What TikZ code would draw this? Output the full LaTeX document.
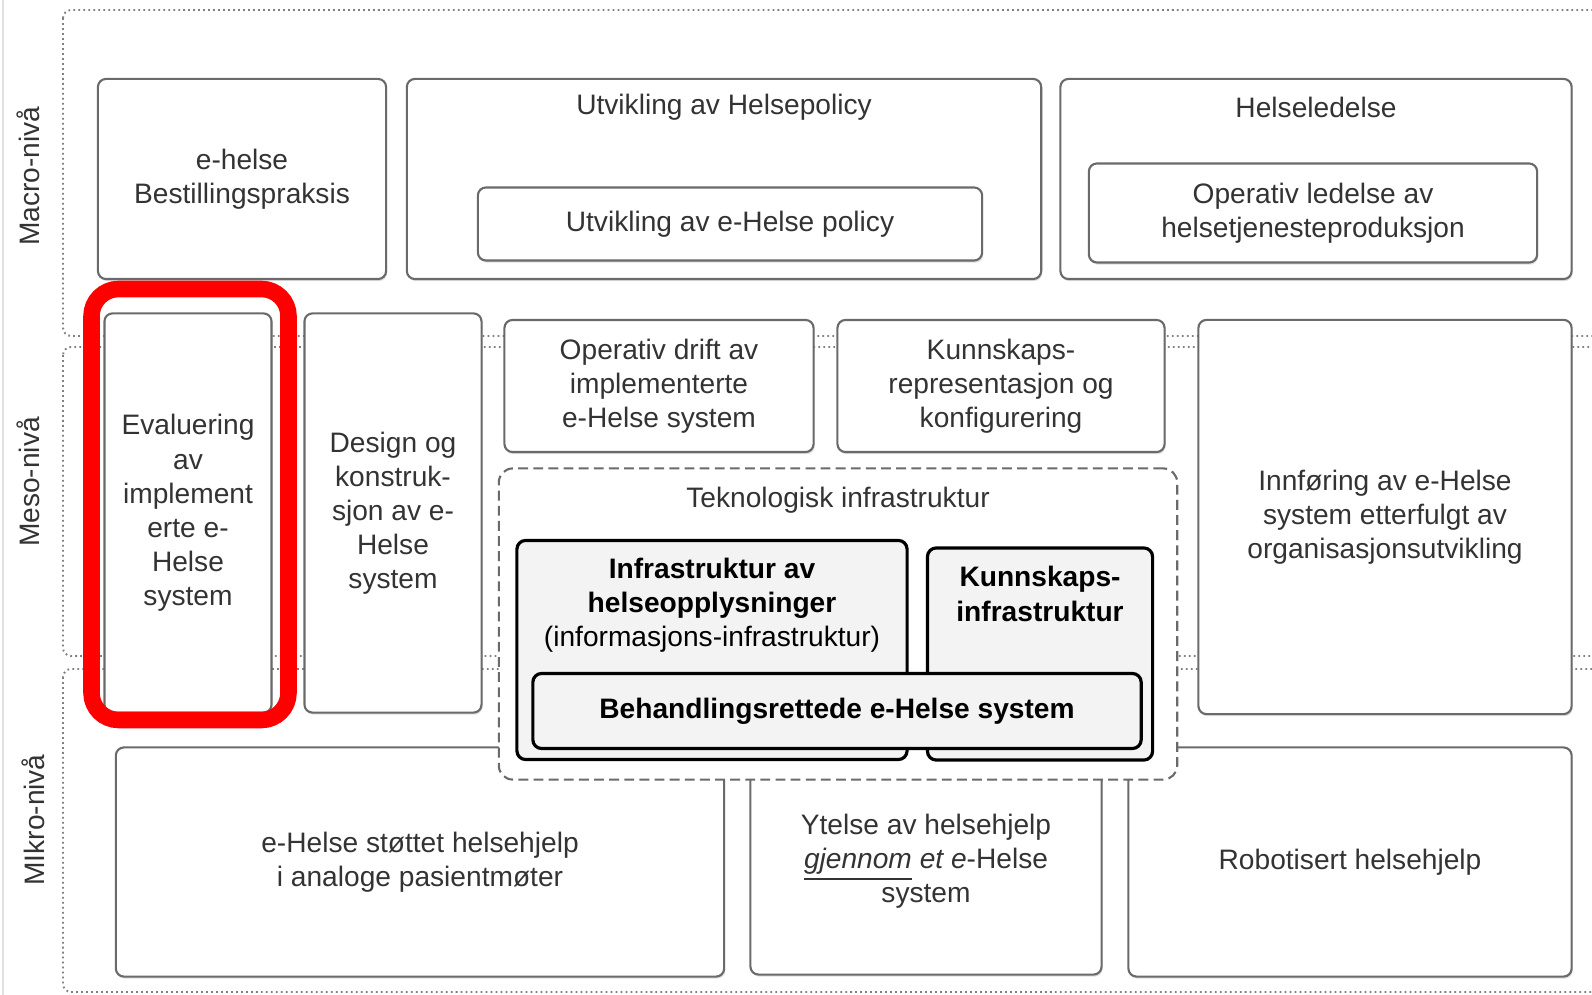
\documentclass[tikz,border=0pt]{standalone}
\usepackage{fontspec}
\setmainfont{Liberation Sans}
\usetikzlibrary{shadows}

\definecolor{boxline}{HTML}{6A6A6A}
\definecolor{txtgray}{HTML}{333333}
\definecolor{fillgray}{HTML}{F3F3F3}
\definecolor{markred}{HTML}{FF0000}

\begin{document}
\begin{tikzpicture}[x=0.01cm,y=-0.01cm,
	every node/.style={font=\fontsize{8}{9.7}\selectfont,text=txtgray,align=center},
	region/.style={draw=black!50,line width=0.55pt,dash pattern=on 0.5pt off 0.92pt,rounded corners=2.3pt},
	box/.style={draw=boxline,line width=0.6pt,fill=white,rounded corners=2.3pt,inner sep=0pt,
		drop shadow={shadow xshift=0.3pt,shadow yshift=-0.6pt,opacity=0.25}},
	techbox/.style={draw=black,line width=0.9pt,fill=fillgray,rounded corners=2.5pt,inner sep=0pt,
		font=\fontsize{8}{9.7}\selectfont\bfseries,text=black},
	techarea/.style={draw=boxline,line width=0.6pt,dash pattern=on 2.8pt off 1.5pt,fill=white,rounded corners=4pt,inner sep=0pt},
	levellabel/.style={rotate=90}]
	\clip (0,0) rectangle (1592,995);
	\draw [black!12] (3,0) -- (3,995);
	
	% levels
	\draw [region] (63,10) rectangle (1650,336);
	\draw [region] (63,347) rectangle (1650,656);
	\draw [region] (63,669) rectangle (1650,992);
	\node [levellabel] (macro) at (28,176) {Macro-nivå};
	\node [levellabel] (meso) at (28,482) {Meso-nivå};
	\node [levellabel] (mikro) at (33,820) {MIkro-nivå};
	
	% macro
	\node [box,minimum width=2.88cm,minimum height=2cm] (bestilling) at (242,179) {e-helse\\Bestillingspraksis};
	\node [box,minimum width=6.34cm,minimum height=2cm] (policy) at (724,179) {};
	\node (policytitle) at (724,107) {Utvikling av Helsepolicy};
	\node [box,minimum width=5.04cm,minimum height=0.73cm] (epolicy) at (730,224) {Utvikling av e-Helse policy};
	\node [box,minimum width=5.11cm,minimum height=2cm] (ledelse) at (1316,179) {};
	\node (ledelsetitle) at (1316,107) {Helseledelse};
	\node [box,minimum width=4.48cm,minimum height=0.99cm] (opledelse) at (1313,213) {Operativ ledelse av\\helsetjenesteproduksjon};
	
	% meso
	\node [box,minimum width=1.67cm,minimum height=3.99cm] (evaluering) at (188,513) {Evaluering\\av\\implement\\erte e-\\Helse\\system};
	\node [box,minimum width=1.77cm,minimum height=3.99cm] (design) at (393,513) {Design og\\konstruk-\\sjon av e-\\Helse\\system};
	\node [box,minimum width=3.09cm,minimum height=1.32cm] (drift) at (659,386) {Operativ drift av\\implementerte\\e-Helse system};
	\node [box,minimum width=3.27cm,minimum height=1.32cm] (kunnskaprep) at (1001,386) {Kunnskaps-\\representasjon og\\konfigurering};
	\node [box,minimum width=3.73cm,minimum height=3.94cm] (innforing) at (1385,517) {Innføring av e-Helse\\system etterfulgt av\\organisasjonsutvikling};
	
	% mikro
	\node [box,minimum width=6.08cm,minimum height=2.29cm] (stottet) at (420,862) {e-Helse støttet helsehjelp\\i analoge pasientmøter};
	\node [box,minimum width=3.51cm,minimum height=2.27cm] (ytelse) at (926,861) {Ytelse av helsehjelp\\\underline{\textit{gjennom}} \textit{et e}-Helse\\system};
	\node [box,minimum width=4.43cm,minimum height=2.29cm] (robot) at (1350,862) {Robotisert helsehjelp};
	
	% teknologisk infrastruktur
	\node [techarea,minimum width=6.78cm,minimum height=3.11cm] (tekno) at (838,624) {};
	\node (teknotitle) at (838,500) {Teknologisk infrastruktur};
	\node [techbox,minimum width=3.9cm,minimum height=2.19cm] (infrahelse) at (712,650) {};
	\node [text=black] (infrahelsetext) at (712,605) {\textbf{Infrastruktur av}\\\textbf{helseopplysninger}\\(informasjons-infrastruktur)};
	\node [techbox,minimum width=2.25cm,minimum height=2.12cm] (kunnskapinfra) at (1040,654) {};
	\node [text=black,font=\fontsize{8}{9.7}\selectfont\bfseries] (kunnskapinfratext) at (1040,594) {Kunnskaps-\\infrastruktur};
	\node [techbox,minimum width=6.08cm,minimum height=0.75cm] (behandling) at (837,711) {Behandlingsrettede e-Helse system};
	
	% highlight
	\draw [markred,line width=4.7pt,rounded corners=7.7pt] (91.5,289) rectangle (288.5,720);
\end{tikzpicture}
\end{document}
